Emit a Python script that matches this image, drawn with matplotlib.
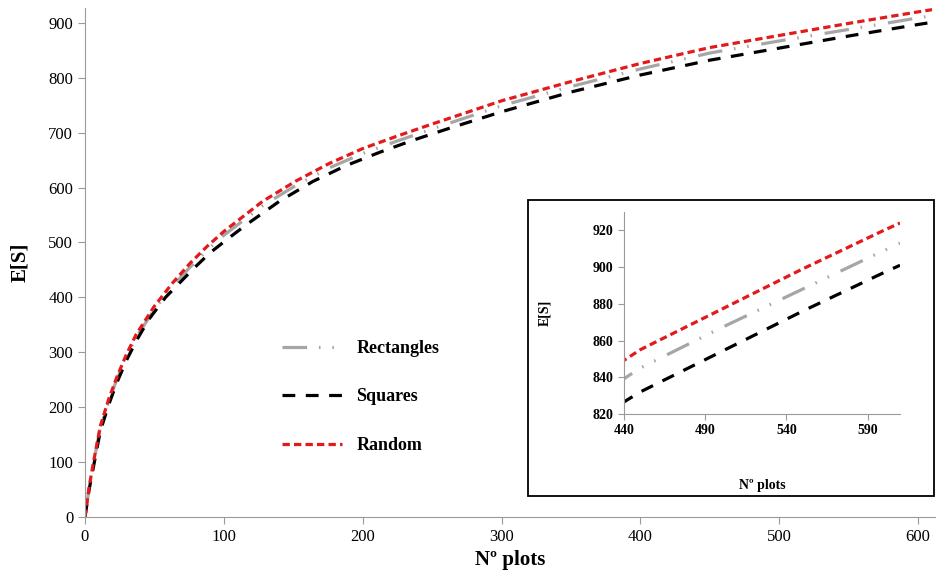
import matplotlib
matplotlib.use('Agg')
import matplotlib.pyplot as plt
from matplotlib.patches import Rectangle

plt.rcParams['font.family'] = ['Liberation Serif', 'DejaVu Serif']

# Expected number of species vs number of plots
n_plots = [0, 3, 6, 11, 17, 23, 30, 37, 50, 63, 76, 88, 100, 128, 152,
           176, 200, 224, 248, 300, 350, 400, 450, 500, 550, 600, 610]
rectangles = [0, 53, 96, 162, 210, 251, 292, 328, 378, 420, 456, 486, 513,
              567, 604, 636, 662, 684, 705, 749, 784, 816, 845, 867, 888,
              909, 913]
random_ = [0, 55, 98, 165, 214, 255, 297, 333, 384, 426, 463, 493, 520,
           575, 612, 644, 671, 693, 714, 758, 793, 826, 855, 877, 899,
           920, 924]

n_plots_sq = [0, 3, 6, 11, 17, 23, 30, 37, 46, 58, 78, 90, 102, 116, 140,
              164, 188, 212, 236, 260, 300, 350, 400, 450, 500, 550, 600, 610]
squares = [0, 50, 90, 156, 204, 245, 286, 321, 360, 400, 452, 481, 505,
           532, 575, 611, 640, 664, 686, 706, 738, 774, 805, 832, 854, 876,
           897, 901]

main_xticks = [0, 100, 200, 300, 400, 500, 600]
main_yticks = [0, 100, 200, 300, 400, 500, 600, 700, 800, 900]
inset_xticks = [440, 490, 540, 590]
inset_yticks = [820, 840, 860, 880, 900, 920]

GRAY = '#a6a6a6'
RED = '#e31a1c'
SPINE = '#9a9a9a'

styles = [
    ('Rectangles', n_plots, rectangles, GRAY, (7.7, 3.7, 0.5, 3.7, 0.5, 4)),
    ('Squares', n_plots_sq, squares, 'black', (4, 3.3)),
    ('Random', n_plots, random_, RED, (2.3, 1.3)),
]

fig = plt.figure(figsize=(9.39, 5.81), dpi=100)
ax = fig.add_axes([0.0905, 0.1102, 0.905, 0.876])

for label, xs, vals, color, dashes in styles:
    ax.plot(xs, vals, color=color, lw=2.3, dashes=dashes, label=label)

ax.set_xlim(0, 612)
ax.set_ylim(0, 927)
ax.set_xticks(main_xticks)
ax.set_yticks(main_yticks)
for s in ['top', 'right']:
    ax.spines[s].set_visible(False)
for s in ['left', 'bottom']:
    ax.spines[s].set_color(SPINE)
ax.tick_params(colors=SPINE, labelcolor='black', labelsize=12, length=5,
               direction='out')
ax.set_xlabel('Nº plots', fontsize=15, fontweight='bold', labelpad=4)
ax.set_ylabel('E[S]', fontsize=15, fontweight='bold', labelpad=13)

leg = ax.legend(loc='upper left', bbox_to_anchor=(0.213, 0.38),
                frameon=False, fontsize=13, handlelength=3.3,
                labelspacing=1.75, handletextpad=0.8)
for t in leg.get_texts():
    t.set_fontweight('bold')

# Inset frame
fig.patches.append(Rectangle((0.5623, 0.1463), 0.4324, 0.5095,
                             transform=fig.transFigure, fill=False,
                             edgecolor='black', lw=1.3, zorder=5))

axi = fig.add_axes([0.6645, 0.2874, 0.294, 0.3477])
for label, xs, vals, color, dashes in styles:
    axi.plot(xs, vals, color=color, lw=2.3, dashes=dashes)
axi.set_xlim(440, 610)
axi.set_ylim(820, 930)
axi.set_xticks(inset_xticks)
axi.set_yticks(inset_yticks)
for s in ['top', 'right']:
    axi.spines[s].set_visible(False)
for s in ['left', 'bottom']:
    axi.spines[s].set_color(SPINE)
axi.tick_params(colors=SPINE, labelcolor='black', labelsize=10, length=4,
                direction='out')
for t in axi.get_xticklabels() + axi.get_yticklabels():
    t.set_fontweight('bold')
axi.set_xlabel('Nº plots', fontsize=10, fontweight='bold', labelpad=30)
axi.set_ylabel('E[S]', fontsize=10, fontweight='bold', labelpad=30)

fig.savefig('out.png', dpi=100)
plt.close(fig)
